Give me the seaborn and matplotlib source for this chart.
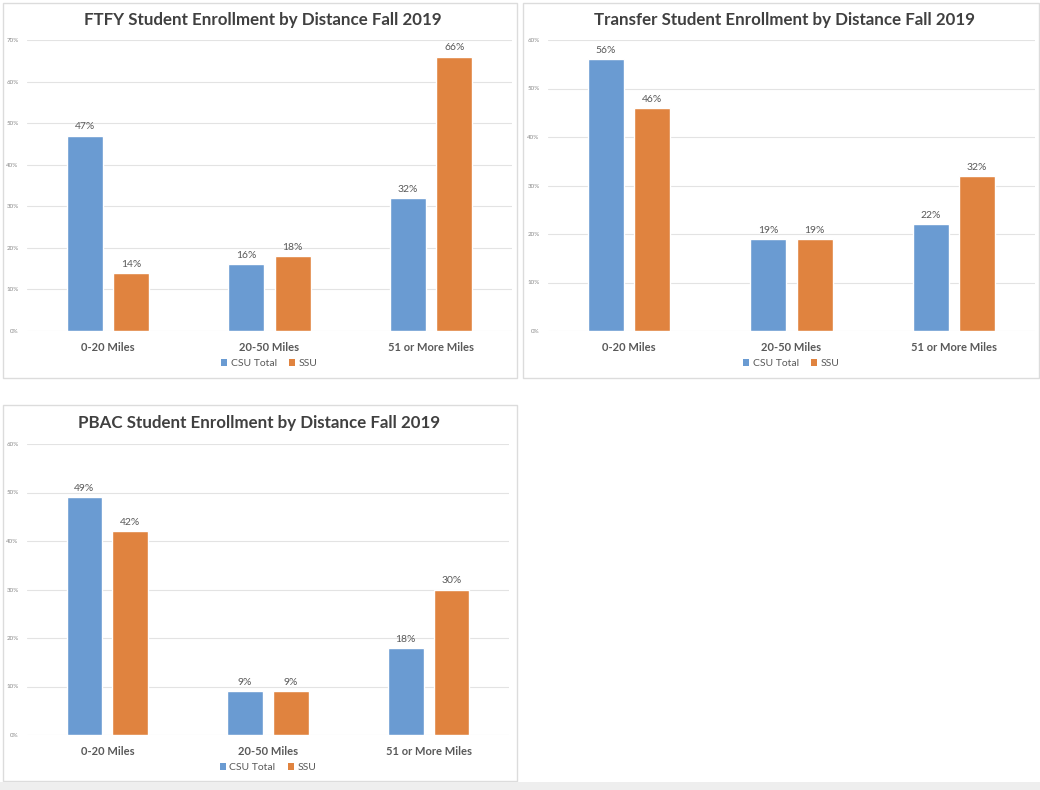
import matplotlib
matplotlib.use("Agg")
import matplotlib.pyplot as plt
from matplotlib.patches import Rectangle, Patch
import seaborn as sns
import pandas as pd

# Distance bands and enrollment shares (%) for each student group
distances = ["0-20 Miles", "20-50 Miles", "51 or More Miles"]
groups = ["CSU Total", "SSU"]

ftfy_csu = [47, 16, 32]
ftfy_ssu = [14, 18, 66]

transfer_csu = [56, 19, 22]
transfer_ssu = [46, 19, 32]

pbac_csu = [49, 9, 18]
pbac_ssu = [42, 9, 30]

titles = [
    "FTFY Student Enrollment by Distance Fall 2019",
    "Transfer Student Enrollment by Distance Fall 2019",
    "PBAC Student Enrollment by Distance Fall 2019",
]
y_max = [70, 60, 60]

colors = ["#6A9BD2", "#E0833F"]
text_dark = "#404040"
text_mid = "#595959"

sns.set_style("white")
plt.rcParams["font.family"] = ["Lato", "DejaVu Sans"]

fig = plt.figure(figsize=(10.4, 7.9), dpi=100)
W, H = 1040, 790

def fx(px):
    return px / W

def fy(py):
    return 1 - py / H

# panel frames (pixel boxes: left, top, right, bottom)
frames = [(3, 3, 517, 378), (523, 3, 1039, 378), (3, 405, 517, 781)]
for l, t, r, b in frames:
    fig.patches.append(Rectangle((fx(l), fy(b)), fx(r - l), (b - t) / H,
                                 transform=fig.transFigure, facecolor="none",
                                 edgecolor="#dcdcdc", linewidth=1.0, zorder=-1))
# light strip along the bottom edge
fig.patches.append(Rectangle((0, 0), 1, 8 / H, transform=fig.transFigure,
                             facecolor="#eeeeee", edgecolor="none", zorder=-1))

# axes boxes in pixels: left, top (y max), right, bottom (0%)
axes_px = [(27, 40, 512, 331), (548, 40, 1035, 331), (27, 444, 509, 735)]
title_px = [(263, 20), (785, 20), (259, 423)]

datasets = [(ftfy_csu, ftfy_ssu), (transfer_csu, transfer_ssu), (pbac_csu, pbac_ssu)]

for i, (csu, ssu) in enumerate(datasets):
    l, t, r, b = axes_px[i]
    ax = fig.add_axes([fx(l), fy(b), fx(r - l), (b - t) / H])
    ax.set_facecolor("none")
    df = pd.DataFrame({
        "Distance": distances * 2,
        "Group": [groups[0]] * 3 + [groups[1]] * 3,
        "Share": list(csu) + list(ssu),
    })
    sns.barplot(data=df, x="Distance", y="Share", hue="Group", hue_order=groups,
                palette=colors, width=0.57, gap=0.22, saturation=1, ax=ax,
                legend=False, zorder=3, err_kws={"linewidth": 0})
    for cont in ax.containers:
        ax.bar_label(cont, labels=[f"{v:.0f}%" for v in cont.datavalues],
                     padding=3, fontsize=7.5, color=text_mid)
    ax.set_xlim(-0.5, 2.5)
    ax.set_ylim(0, y_max[i])
    ticks = list(range(0, y_max[i] + 1, 10))
    ax.set_yticks(ticks)
    ax.set_yticklabels([f"{v}%" for v in ticks], fontsize=4.5, color="#8a8a8a")
    ax.yaxis.grid(True, color="#e3e3e3", linewidth=0.8, zorder=0)
    ax.set_axisbelow(True)
    ax.tick_params(axis="y", length=0, pad=6)
    ax.tick_params(axis="x", length=0, pad=8)
    for lab in ax.get_xticklabels():
        lab.set_fontweight("bold")
        lab.set_fontsize(8)
        lab.set_color(text_mid)
    ax.set_xlabel("")
    ax.set_ylabel("")
    for s in ax.spines.values():
        s.set_visible(False)
    handles = [Patch(facecolor=c, edgecolor="none") for c in colors]
    ax.legend(handles, groups, loc="center", bbox_to_anchor=(0.5, -0.112),
              ncol=2, frameon=False, fontsize=7.5, labelcolor=text_mid,
              handlelength=0.55, handleheight=0.55, handletextpad=0.35,
              columnspacing=1.2)
    tx, ty = title_px[i]
    fig.text(fx(tx), fy(ty), titles[i], ha="center", va="center",
             fontsize=12.2, fontweight="bold", color=text_dark)

fig.savefig("out.png", dpi=100, facecolor="white")
